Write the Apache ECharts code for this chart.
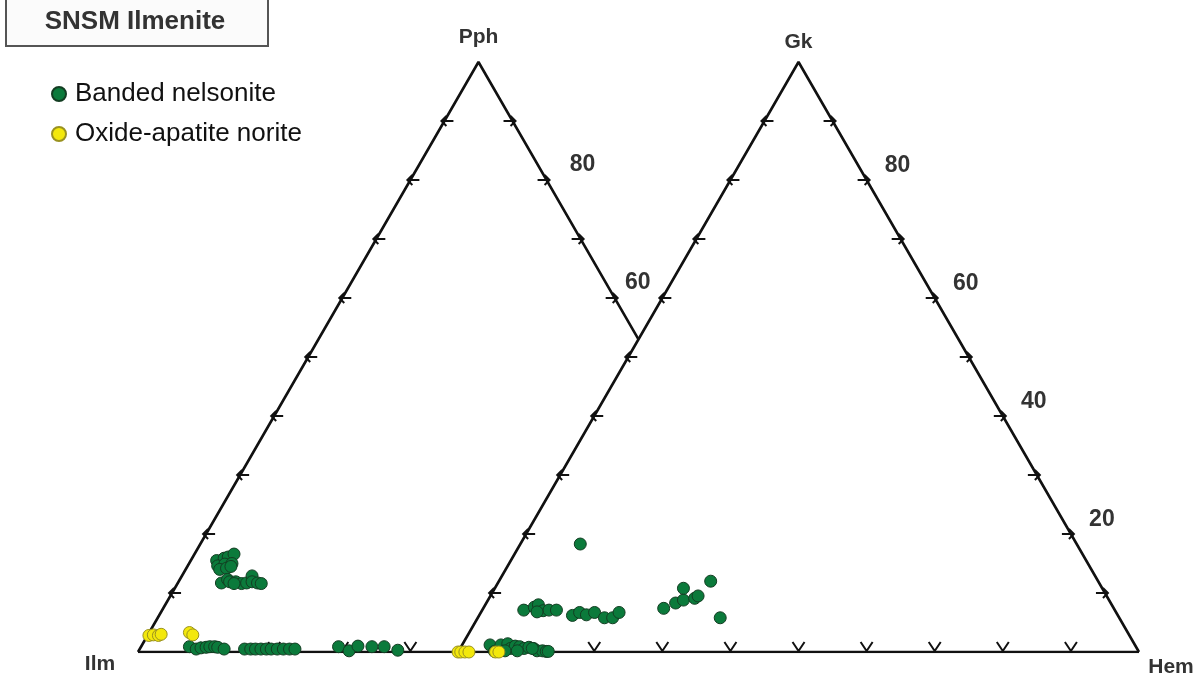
<!DOCTYPE html>
<html>
<head>
<meta charset="utf-8">
<script src="https://cdn.jsdelivr.net/npm/echarts@6/dist/echarts.min.js"></script>
<style>
html,body{margin:0;padding:0;background:#fff;}
#chart{width:1199px;height:677px;}
</style>
</head>
<body>
<div id="chart"></div>
<script>
// ---------- DATA ----------
// Left diagram (Ilm - Pph - Hem): [Pph %, Hem %]
const pphBanded = [
  [15.5,3.8],[15.9,4.7],[16.1,5.2],[16.6,5.8],[14.6,4.4],[14.9,5.3],[15.0,6.3],[14.0,5.0],[14.2,5.9],[14.5,6.4],
  [11.7,6.4],[12.3,7.0],[11.9,7.5],[11.9,8.4],[11.6,9.4],[11.7,10.1],[12.9,10.3],[11.9,10.8],[11.7,11.7],[11.6,12.3],[11.6,8.3],
  [0.9,7.1],[0.5,8.3],[0.7,8.9],[0.8,9.6],[0.9,10.1],[0.9,10.8],[0.8,11.3],[0.5,12.4],
  [0.5,15.4],[0.5,16.3],[0.5,17.0],[0.5,17.8],[0.5,18.6],[0.5,19.3],[0.5,20.2],[0.5,21.1],[0.5,22.0],[0.5,22.8],
  [0.9,29.0],[0.2,30.9],[1.0,31.8],[0.9,33.9],[0.9,35.7],[0.3,38.0]
];
const pphNorite = [[2.8,0.2],[2.9,0.8],[2.8,1.6],[3.0,1.9],[3.3,5.9],[2.9,6.6]];
// Right diagram (Ilm - Gk - Hem): [Gk %, Hem %]
const gkBanded = [
  [1.2,4.1],[0.1,5.3],[1.2,5.7],[1.4,6.6],[0.6,7.4],[1.0,7.9],[0.9,8.6],[0.6,9.4],[0.8,10.0],[0.6,10.8],
  [0.2,11.5],[0.2,12.3],[0.1,12.9],[0.2,6.8],[0.2,8.6],[0.6,10.6],[0.1,13.2],
  [7.1,6.1],[7.6,7.4],[8.0,7.8],[7.0,9.0],[7.1,9.8],[7.1,10.9],[6.8,8.2],
  [6.2,13.7],[6.7,14.5],[6.3,15.7],[6.7,16.7],[5.8,18.6],[5.8,19.8],[6.7,20.3],
  [18.3,8.8],
  [7.4,26.5],[8.3,27.8],[8.8,28.7],[10.8,27.7],[9.1,30.2],[9.5,30.5],[12.0,31.1],[5.8,35.6]
];
const gkNorite = [[0,0],[0,0.4],[0,1.0],[0,1.6],[0,5.5],[0,6.0]];

const seriesNames = ['Banded nelsonite','Oxide-apatite norite'];
const cornerNames = ['Ilm','Pph','Gk','Hem'];
const tickPct = [10,20,30,40,50,60,70,80,90];
const leftRightEdgeTicks = [60,70,80,90];
const leftBaseTicks = [10,20,30,40];
const leftEdgeLabels = [80,60];
const rightEdgeLabels = [80,60,40,20];
const titleText = 'SNSM Ilmenite';

// ---------- GEOMETRY ----------
const SQ = Math.sqrt(3)/2;
const OFF2 = 47; // x offset of second triangle (units of the shared cartesian grid)
function tern(apex, right, off){ return [off + right + apex/2, apex*SQ]; }

// triangle outlines
const yCross = (100 - OFF2) / (2/Math.sqrt(3));
const tCross = yCross / SQ;
const leftOutline = [tern(0,0,0), tern(100,0,0), tern(tCross,100-tCross,0)];
const rightOutline = [tern(0,0,OFF2), tern(100,0,OFF2), tern(0,100,OFF2)];
const baseLine = [tern(0,0,0), tern(0,100,OFF2)];

// ticks: kind 0 '<' (left edges), 1 '>' (right edges), 2 'v' (base)
const ticks = [];
tickPct.forEach(t => ticks.push([...tern(t,0,0),0]));
leftRightEdgeTicks.forEach(t => ticks.push([...tern(t,100-t,0),1]));
leftBaseTicks.forEach(r => ticks.push([...tern(0,r,0),2]));
tickPct.forEach(t => ticks.push([...tern(t,0,OFF2),0]));
tickPct.forEach(t => ticks.push([...tern(t,100-t,OFF2),1]));
tickPct.forEach(r => ticks.push([...tern(0,r,OFF2),2]));

// text labels
const texts = [];
leftEdgeLabels.forEach((t,i) => texts.push({pos:tern(t,100-t,0), text:String(t), dx: i===0?36:23, dy:-15, size:23}));
rightEdgeLabels.forEach(t => texts.push({pos:tern(t,100-t,OFF2), text:String(t), dx:31, dy:-14, size:23}));
texts.push({pos:tern(0,0,0), text:cornerNames[0], dx:-38, dy:12, size:21});
texts.push({pos:tern(100,0,0), text:cornerNames[1], dx:0, dy:-25, size:21});
texts.push({pos:tern(100,0,OFF2), text:cornerNames[2], dx:0, dy:-20, size:21});
texts.push({pos:tern(0,100,OFF2), text:cornerNames[3], dx:32, dy:15, size:21});

const banded = pphBanded.map(d => tern(d[0],d[1],0)).concat(gkBanded.map(d => tern(d[0],d[1],OFF2)));
const norite = pphNorite.map(d => tern(d[0],d[1],0)).concat(gkNorite.map(d => tern(d[0],d[1],OFF2)));

const FONT = '"Liberation Sans", Arial, sans-serif';
const lineStyle = {color:'#111', width:2.6};

const chart = echarts.init(document.getElementById('chart'));
chart.setOption({
  backgroundColor:'#ffffff',
  animation:false,
  grid:{left:138, right:60, top:62, bottom:25},
  xAxis:{type:'value', min:0, max:147, show:false},
  yAxis:{type:'value', min:0, max:100*SQ, show:false},
  legend:{
    orient:'vertical', left:51, top:81, padding:0, itemGap:14, itemWidth:14, itemHeight:14,
    icon:'circle', data:seriesNames,
    textStyle:{fontSize:26, color:'#111', fontFamily:FONT, padding:[0,0,0,4]}
  },
  graphic:[
    {type:'rect', shape:{x:6, y:-4, width:262, height:50}, style:{fill:'#fbfbfb', stroke:'#555', lineWidth:2}, z:10},
    {type:'text', x:135, y:22, style:{text:titleText, font:'bold 26px '+FONT, fill:'#333', align:'center', verticalAlign:'middle'}, z:11}
  ],
  series:[
    {type:'line', data:leftOutline, symbol:'none', lineStyle:lineStyle, silent:true, z:1},
    {type:'line', data:rightOutline, symbol:'none', lineStyle:lineStyle, silent:true, z:1},
    {type:'line', data:baseLine, symbol:'none', lineStyle:lineStyle, silent:true, z:1},
    {
      type:'custom', data:ticks, encode:{x:0,y:1}, silent:true, clip:false, z:2,
      renderItem:function(params, api){
        const p = api.coord([api.value(0), api.value(1)]);
        const k = api.value(2);
        const x = p[0], y = p[1];
        const st = {stroke:'#111', lineWidth:2, fill:null};
        let children;
        if (k===0){
          children = [
            {type:'polyline', shape:{points:[[x-3,y],[x+9,y]]}, style:st},
            {type:'polyline', shape:{points:[[x+2,y-5],[x-3,y],[x+2,y+5]]}, style:st}
          ];
        } else if (k===1){
          children = [
            {type:'polyline', shape:{points:[[x-9,y],[x+3,y]]}, style:st},
            {type:'polyline', shape:{points:[[x-2,y-5],[x+3,y],[x-2,y+5]]}, style:st}
          ];
        } else {
          children = [
            {type:'polyline', shape:{points:[[x-6,y-10],[x,y-1],[x+6,y-10]]}, style:st}
          ];
        }
        return {type:'group', children:children};
      }
    },
    {
      type:'custom', data:texts.map(t => t.pos), encode:{x:0,y:1}, silent:true, clip:false, z:3,
      renderItem:function(params, api){
        const t = texts[params.dataIndex];
        const p = api.coord([api.value(0), api.value(1)]);
        return {type:'text', x:p[0]+t.dx, y:p[1]+t.dy,
          style:{text:t.text, font:'bold '+t.size+'px '+FONT, fill:'#333', align:'center', verticalAlign:'middle'}};
      }
    },
    {
      name:seriesNames[0], type:'scatter', data:banded, symbol:'circle', symbolSize:12, z:5,
      itemStyle:{color:'#0b7a3b', borderColor:'#133d22', borderWidth:1, opacity:1}
    },
    {
      name:seriesNames[1], type:'scatter', data:norite, symbol:'circle', symbolSize:12, z:6,
      itemStyle:{color:'#f3e80c', borderColor:'#9a9220', borderWidth:1, opacity:1}
    }
  ]
});
</script>
</body>
</html>
